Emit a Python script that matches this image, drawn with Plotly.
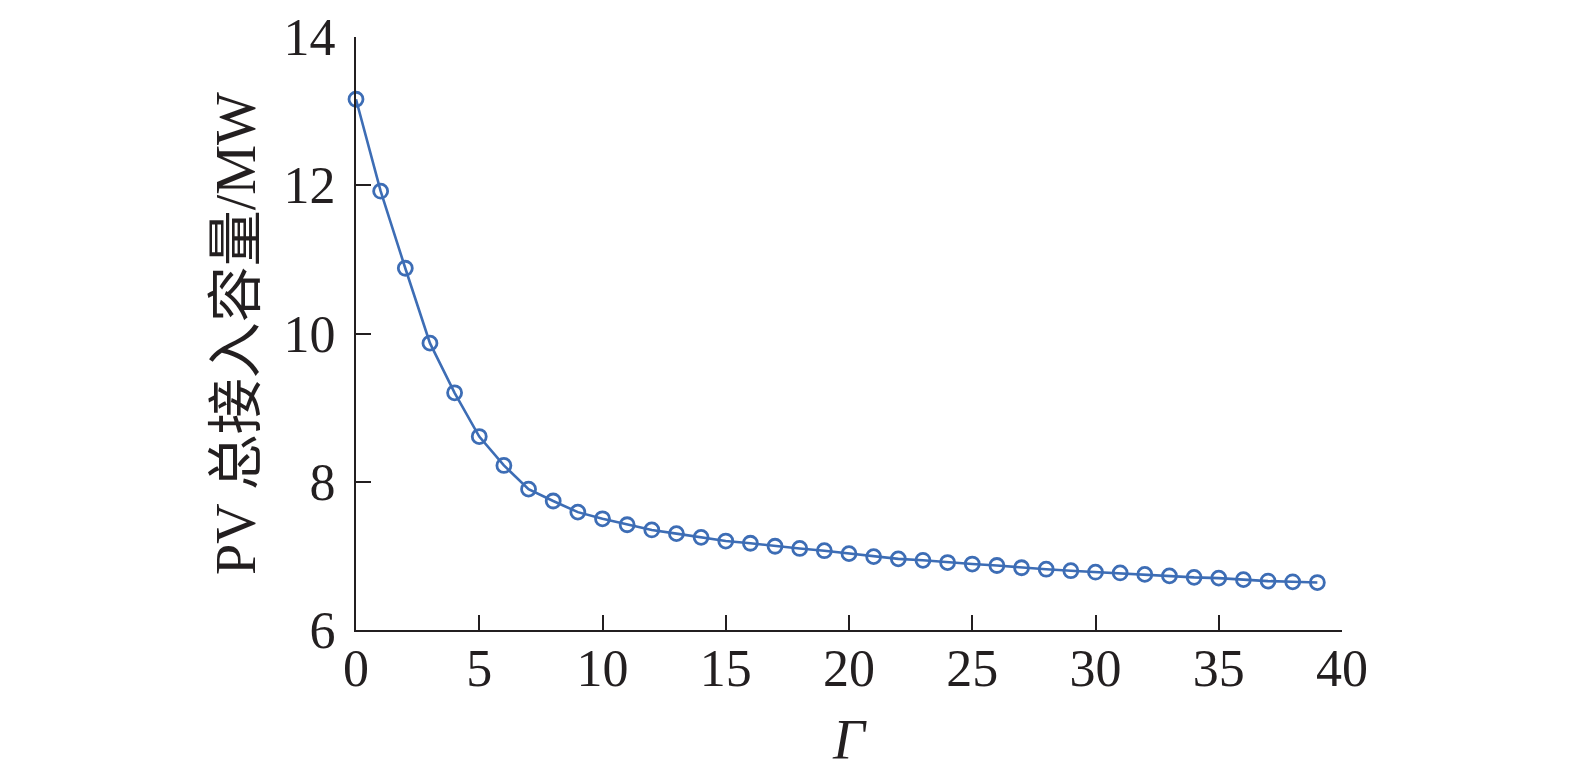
import plotly.graph_objects as go

# Γ 取值与对应的 PV 总接入容量 (MW)
gamma = list(range(40))
pv_capacity = [
    13.16, 11.92, 10.88, 9.87, 9.20, 8.61, 8.22, 7.90, 7.74, 7.59,
    7.50, 7.42, 7.35, 7.30, 7.25, 7.20, 7.17, 7.13, 7.10, 7.07,
    7.03, 6.99, 6.96, 6.94, 6.91, 6.89, 6.87, 6.84, 6.82, 6.80,
    6.78, 6.77, 6.75, 6.73, 6.71, 6.70, 6.68, 6.66, 6.65, 6.64,
]
x_ticks = [0, 5, 10, 15, 20, 25, 30, 35, 40]
y_ticks = [6, 8, 10, 12, 14]

LINE_COLOR = "#3d6db5"
AXIS_COLOR = "#231f20"
FONT = "Liberation Serif, Times New Roman, Noto Sans CJK SC, serif"

fig = go.Figure()
fig.add_trace(go.Scatter(
    x=gamma,
    y=pv_capacity,
    mode="lines+markers",
    line=dict(color=LINE_COLOR, width=2.6),
    marker=dict(symbol="circle-open", size=14, color=LINE_COLOR, line=dict(width=2.8)),
    cliponaxis=False,
    showlegend=False,
))

axis_style = dict(
    showline=True,
    linecolor=AXIS_COLOR,
    linewidth=2,
    ticks="inside",
    ticklen=15,
    tickwidth=2,
    tickcolor=AXIS_COLOR,
    showgrid=False,
    zeroline=False,
    automargin=False,
    tickfont=dict(family=FONT, size=52, color=AXIS_COLOR),
)

fig.update_xaxes(
    range=[0, 40],
    tickvals=x_ticks,
    ticklabelstandoff=-8,
    title=dict(text="<i>Γ</i>", font=dict(family=FONT, size=56, color=AXIS_COLOR), standoff=23),
    **axis_style,
)
fig.update_yaxes(
    range=[6, 14],
    tickvals=y_ticks,
    ticklabelstandoff=8,
    title=dict(text="PV 总接入容量/MW", font=dict(family=FONT, size=56, color=AXIS_COLOR), standoff=10),
    **axis_style,
)

# 页面 body 默认有 8px 外边距，宽度相应减小；高度保留，让 Γ 标题有足够空间
fig.update_layout(
    width=1559,
    height=769,
    margin=dict(l=348, r=225, t=29, b=147),
    plot_bgcolor="white",
    paper_bgcolor="white",
)

fig.write_html("out.html")
